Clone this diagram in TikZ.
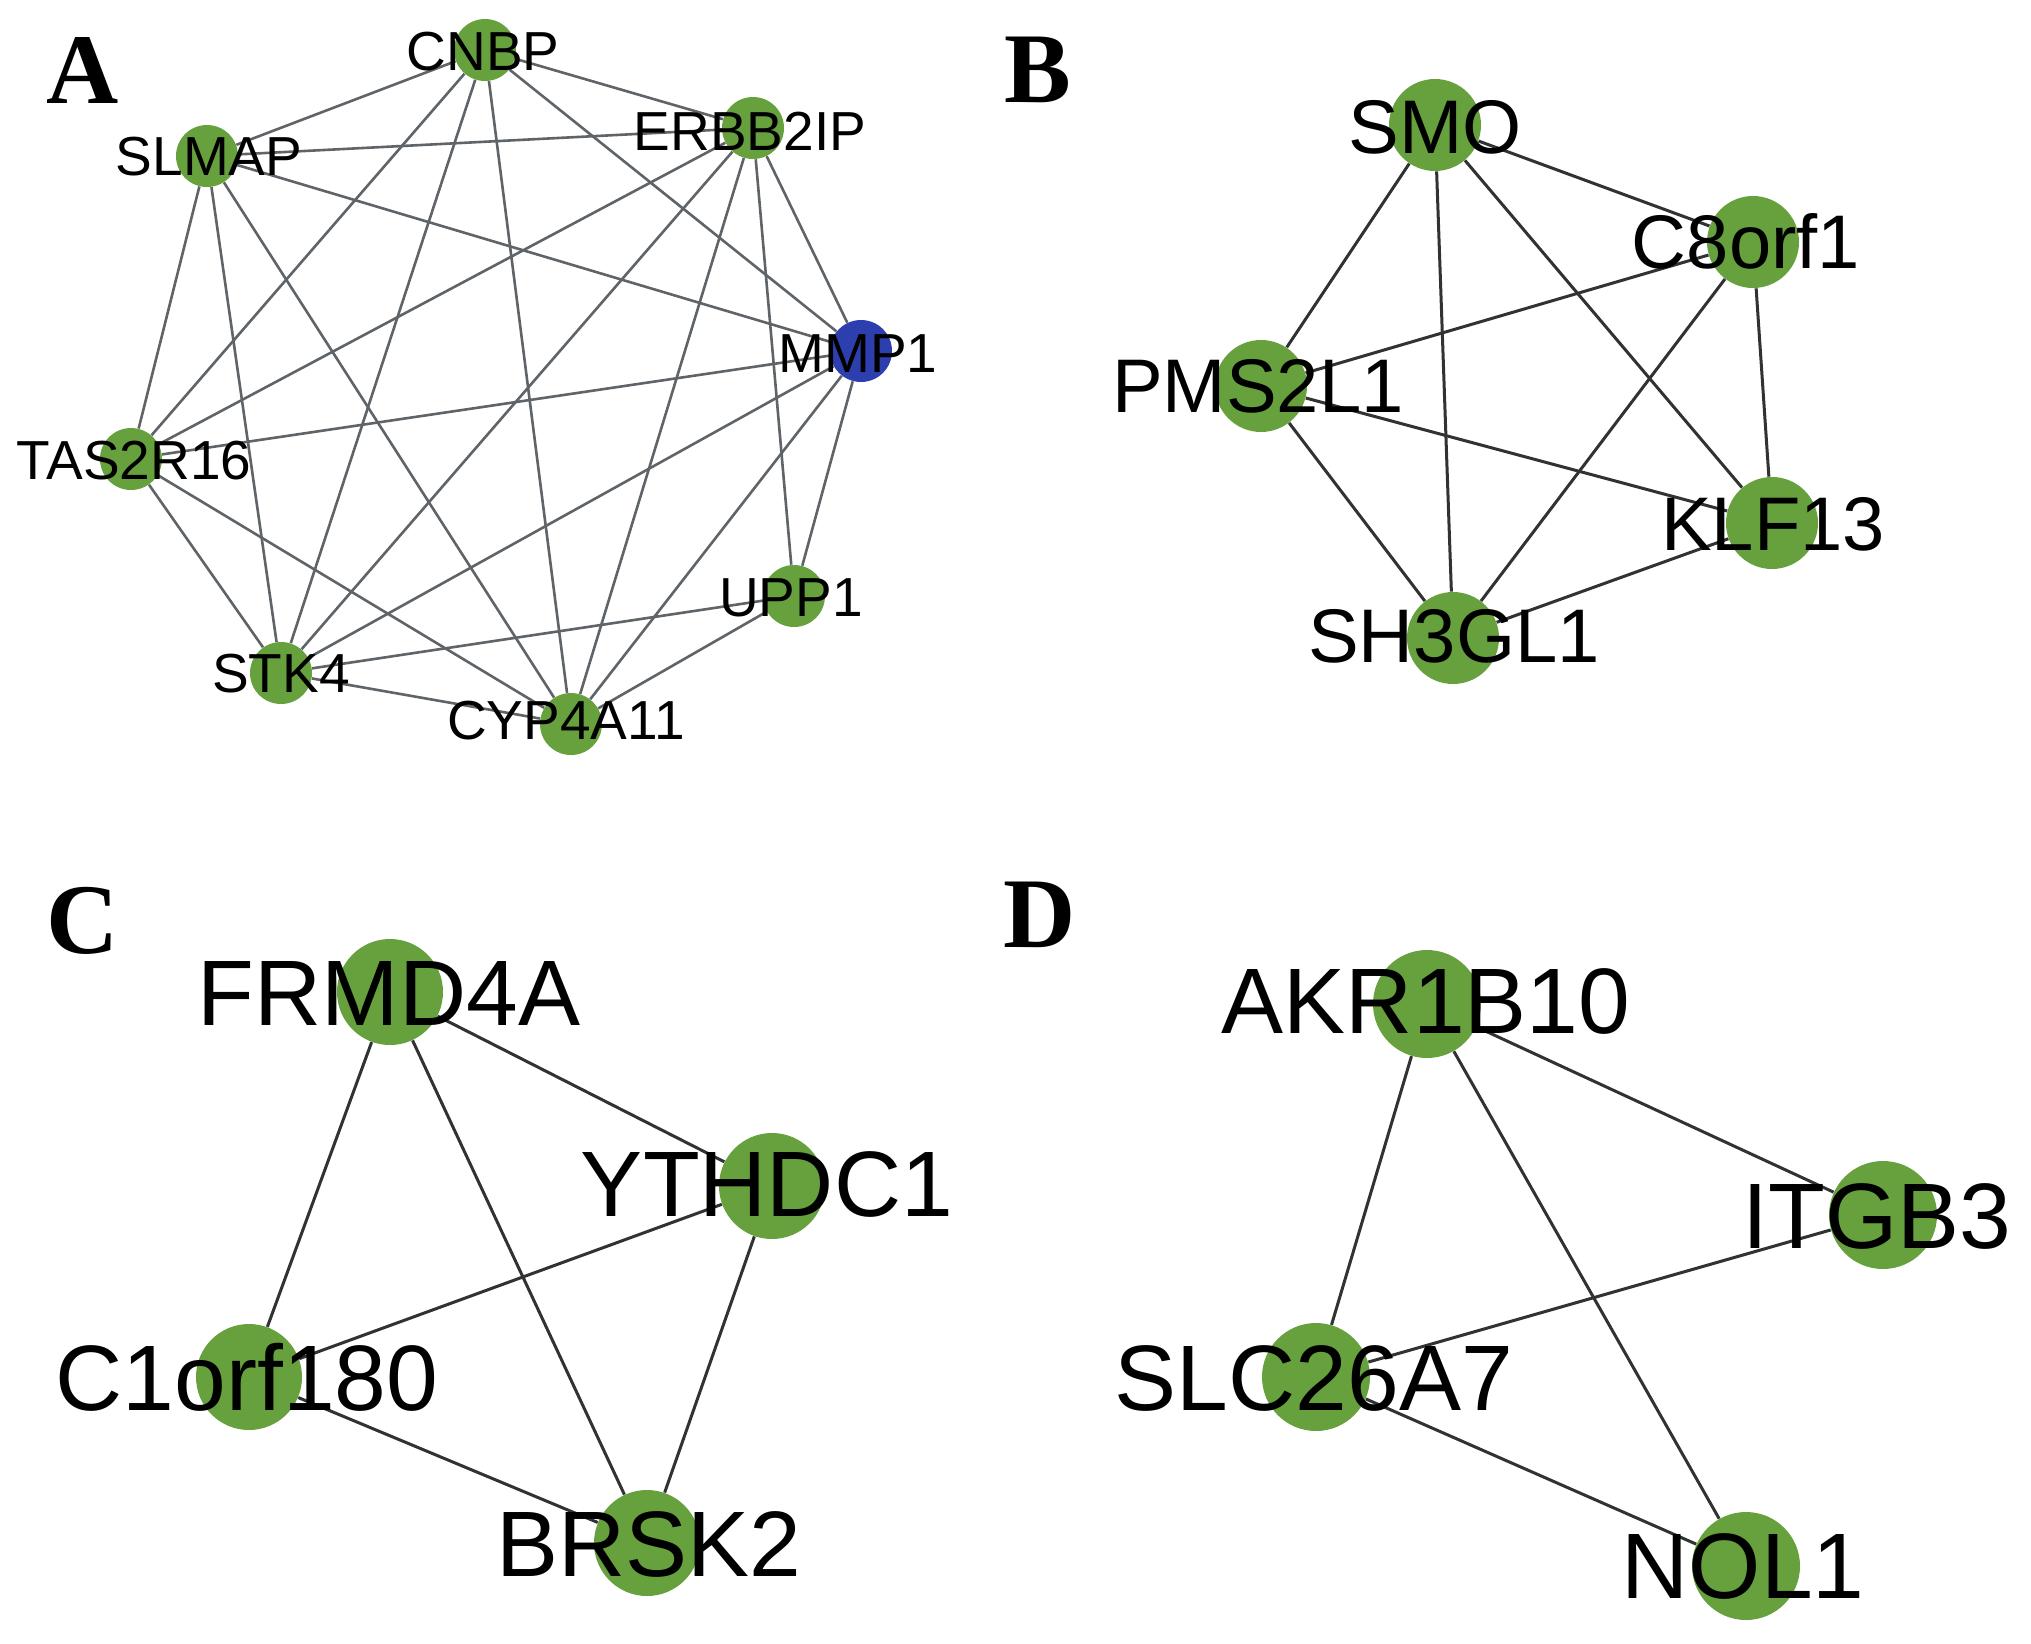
\documentclass[tikz,border=0pt]{standalone}
\usepackage{fontspec}
\setmainfont{Liberation Sans}
\newfontfamily\letterfont{Liberation Serif}
\definecolor{ngreen}{RGB}{103,161,62}
\definecolor{nblue}{RGB}{45,62,175}
\definecolor{edgeA}{RGB}{95,100,104}
\definecolor{edgeB}{RGB}{48,50,52}
\tikzset{
  gnode/.style={circle, fill=ngreen, draw=none, inner sep=0pt},
  bnode/.style={circle, fill=nblue, draw=none, inner sep=0pt},
  nA/.style={minimum size=31pt},
  nB/.style={minimum size=46pt},
  nC/.style={minimum size=53pt},
  nD/.style={minimum size=54pt},
  lbl/.style={inner sep=0pt, anchor=center, text depth=0pt},
  lblA/.style={lbl, text height=19.7pt, font=\fontsize{27.5}{27.5}\selectfont},
  lblB/.style={lbl, text height=27.2pt, font=\fontsize{38}{38}\selectfont},
  lblC/.style={lbl, text height=33.3pt, font=\fontsize{46.5}{46.5}\selectfont},
  panel/.style={inner sep=0pt, anchor=center, font=\fontsize{50}{50}\selectfont\letterfont\bfseries},
  eA/.style={draw=edgeA, line width=1.3pt},
  eB/.style={draw=edgeB, line width=1.5pt}
}
\begin{document}
\begin{tikzpicture}[x=0.5pt, y=-0.5pt]
\useasboundingbox (0,0) rectangle (2031,1644);
\fill[white] (0,0) rectangle (2031,1644);

% ---------------- Panel A ----------------
\node[panel] (pA) at (83,70) {A};
\node[gnode,nA] (aC) at (485,50) {};
\node[gnode,nA] (aE) at (753,128) {};
\node[gnode,nA] (aS) at (207,156) {};
\node[bnode,nA] (aM) at (861,351) {};
\node[gnode,nA] (aT) at (131,459) {};
\node[gnode,nA] (aU) at (794,596) {};
\node[gnode,nA] (aK) at (281,673) {};
\node[gnode,nA] (aY) at (571,724) {};
\foreach \a/\b in {aC/aS,aC/aE,aC/aM,aC/aT,aC/aK,aC/aY,
                   aS/aE,aS/aM,aS/aT,aS/aK,aS/aY,
                   aE/aT,aE/aK,aE/aY,aE/aM,aE/aU,
                   aM/aT,aM/aK,aM/aY,aM/aU,
                   aT/aK,aT/aY,aU/aK,aU/aY,aK/aY}
  \draw[eA] (\a) -- (\b);
\node[lblA] (laC) at (483,51) {CNBP};
\node[lblA] (laE) at (750,131) {ERBB2IP};
\node[lblA] (laS) at (209,156) {SLMAP};
\node[lblA] (laM) at (858,353) {MMP1};
\node[lblA] (laT) at (134,460) {TAS2R16};
\node[lblA] (laU) at (791,597) {UPP1};
\node[lblA] (laK) at (281,673) {STK4};
\node[lblA] (laY) at (566,720) {CYP4A11};

% ---------------- Panel B ----------------
\node[panel] (pB) at (1038,70) {B};
\node[gnode,nB] (bS) at (1435,125) {};
\node[gnode,nB] (bC) at (1753,242) {};
\node[gnode,nB] (bP) at (1261,386) {};
\node[gnode,nB] (bK) at (1772,523) {};
\node[gnode,nB] (bH) at (1453,638) {};
\foreach \a/\b in {bS/bC,bS/bP,bS/bH,bS/bK,bC/bP,bC/bH,bC/bK,bP/bK,bP/bH,bK/bH}
  \draw[eB] (\a) -- (\b);
\node[lblB] (lbS) at (1435,126) {SMO};
\node[lblB] (lbC) at (1746,241) {C8orf1};
\node[lblB] (lbP) at (1258,385) {PMS2L1};
\node[lblB] (lbK) at (1773,523) {KLF13};
\node[lblB] (lbH) at (1454,635) {SH3GL1};

% ---------------- Panel C ----------------
\node[panel] (pC) at (83,921) {C};
\node[gnode,nC] (cF) at (390,992) {};
\node[gnode,nC] (cY) at (772,1186) {};
\node[gnode,nC] (cC) at (249,1377) {};
\node[gnode,nC] (cB) at (647,1543) {};
\foreach \a/\b in {cF/cY,cF/cC,cF/cB,cY/cC,cY/cB,cC/cB}
  \draw[eB] (\a) -- (\b);
\node[lblC] (lcF) at (389,992) {FRMD4A};
\node[lblC] (lcY) at (767,1183) {YTHDC1};
\node[lblC] (lcC) at (247,1377) {C1orf180};
\node[lblC] (lcB) at (649,1543) {BRSK2};

% ---------------- Panel D ----------------
\node[panel] (pD) at (1040,915) {D};
\node[gnode,nD] (dA) at (1427,1004) {};
\node[gnode,nD] (dI) at (1883,1215) {};
\node[gnode,nD] (dS) at (1316,1377) {};
\node[gnode,nD] (dN) at (1746,1566) {};
\foreach \a/\b in {dA/dI,dA/dS,dA/dN,dI/dS,dS/dN}
  \draw[eB] (\a) -- (\b);
\node[lblC] (ldA) at (1426,1000) {AKR1B10};
\node[lblC] (ldI) at (1877,1215) {ITGB3};
\node[lblC] (ldS) at (1314,1377) {SLC26A7};
\node[lblC] (ldN) at (1743,1565) {NOL1};
\end{tikzpicture}
\end{document}
